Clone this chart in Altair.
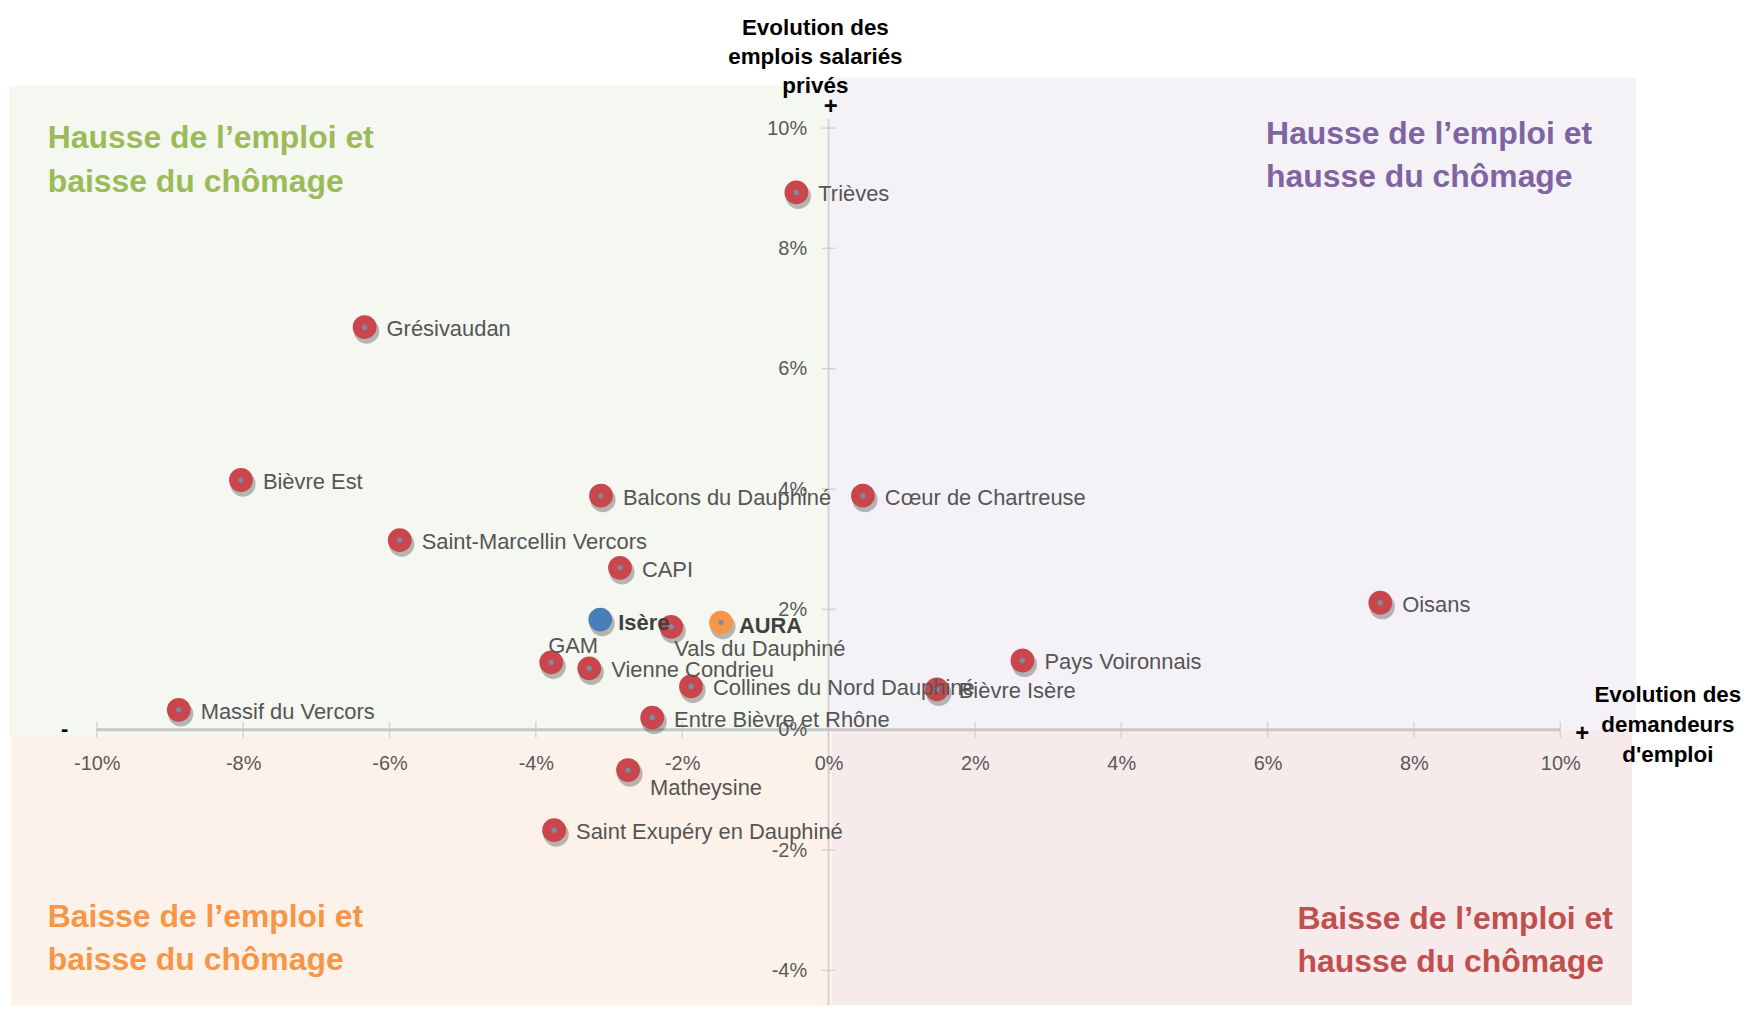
import altair as alt
import pandas as pd

# ---------------- data ----------------
names = ["Trièves", "Grésivaudan", "Bièvre Est", "Balcons du Dauphiné", "Cœur de Chartreuse",
         "Saint-Marcellin Vercors", "CAPI", "Isère", "Vals du Dauphiné", "AURA", "Oisans",
         "GAM", "Vienne Condrieu", "Pays Voironnais", "Collines du Nord Dauphiné",
         "Bièvre Isère", "Massif du Vercors", "Entre Bièvre et Rhône", "Matheysine",
         "Saint Exupéry en Dauphiné"]
demandeurs = [-0.44, -6.34, -8.03, -3.11, 0.47, -5.86, -2.85, -3.12, -2.15, -1.47, 7.54,
              -3.79, -3.27, 2.65, -1.88, 1.48, -8.88, -2.41, -2.74, -3.75]
emplois = [8.93, 6.69, 4.15, 3.89, 3.89, 3.15, 2.69, 1.83, 1.71, 1.78, 2.11,
           1.12, 1.02, 1.15, 0.72, 0.67, 0.33, 0.20, -0.67, -1.67]
kinds = ["Isère" if n == "Isère" else "AURA" if n == "AURA" else "EPCI" for n in names]

x_ticks = [-10, -8, -6, -4, -2, 0, 2, 4, 6, 8, 10]
y_ticks = [-4, -2, 0, 2, 4, 6, 8, 10]

labels_above = ["GAM"]
labels_below = ["Vals du Dauphiné"]
labels_below_right = ["Matheysine"]
labels_bold = ["Isère", "AURA"]

df = pd.DataFrame({"name": names, "x": demandeurs, "y": emplois, "kind": kinds})

# ---------------- layout ----------------
W, H = 1633, 931
XMIN, XMAX = -11.2, 11.04
YMIN, YMAX = -4.58, 10.84
FONT = "Liberation Sans, Arial, sans-serif"
GREY = "#555555"
AXC = "#c8c8c8"

x_scale = alt.Scale(domain=[XMIN, XMAX], nice=False, zero=False)
y_scale = alt.Scale(domain=[YMIN, YMAX], nice=False, zero=False)
x0_px = (0 - XMIN) / (XMAX - XMIN) * W
y0_px = (YMAX - 0) / (YMAX - YMIN) * H

x_axis = alt.Axis(values=x_ticks, labelExpr="datum.value + '%'", offset=-(H - y0_px),
                  ticks=False, tickSize=0, domain=False, grid=False, labelFontSize=20,
                  labelColor="#595959", labelFont=FONT, labelPadding=24, title=None, zindex=1,
                  labelOverlap=False, labelFlush=False)
y_axis = alt.Axis(values=y_ticks, labelExpr="datum.value + '%'", offset=-x0_px,
                  ticks=False, tickSize=0, domain=False, grid=False, labelFontSize=20,
                  labelColor="#595959", labelFont=FONT, labelPadding=22, title=None, zindex=1,
                  labelOverlap=False, labelFlush=False)


def X(field=None, datum=None):
    if datum is not None:
        return alt.X(datum=datum, type="quantitative", scale=x_scale, axis=x_axis)
    return alt.X(field, type="quantitative", scale=x_scale, axis=x_axis)


def Y(field=None, datum=None):
    if datum is not None:
        return alt.Y(datum=datum, type="quantitative", scale=y_scale, axis=y_axis)
    return alt.Y(field, type="quantitative", scale=y_scale, axis=y_axis)


one = pd.DataFrame({"k": [0]})

# quadrant backgrounds
quad = pd.DataFrame({
    "x": [XMIN, 0.0, -11.17, 0.04],
    "x2": [0.0, XMAX, 0.04, 10.98],
    "y": [10.70, 10.84, -0.12, 0.0],
    "y2": [-0.12, 0.0, YMIN, YMIN],
    "c": ["#f5f7f1", "#f4f2f7", "#fdf2ea", "#f7eaeb"],
})
bg = alt.Chart(quad).mark_rect().encode(
    x=X("x"), x2="x2", y=Y("y"), y2="y2", color=alt.Color("c:N", scale=None))

# axis lines and ticks
xline = alt.Chart(pd.DataFrame({"x": [-10], "x2": [10], "y": [0]})).mark_rule(
    color=AXC, strokeWidth=3).encode(x=X("x"), x2="x2", y=Y("y"))
yline = alt.Chart(pd.DataFrame({"x": [0], "y": [10.15], "y2": [YMIN]})).mark_rule(
    color="#d4d4d4", strokeWidth=2).encode(x=X("x"), y=Y("y"), y2="y2")
xt = alt.Chart(pd.DataFrame({"t": x_ticks})).mark_tick(
    orient="vertical", size=16, thickness=1.5, color=AXC).encode(x=X("t"), y=Y(datum=0))
yt = alt.Chart(pd.DataFrame({"t": y_ticks})).mark_tick(
    orient="horizontal", size=14, thickness=1.5, color=AXC).encode(x=X(datum=0), y=Y("t"))

# points
base = alt.Chart(df)
shadow = base.mark_circle(size=640, color="#2a2a2a", opacity=0.32, xOffset=2, yOffset=4).encode(
    x=X("x"), y=Y("y"))
pts = base.mark_circle(size=570, opacity=1).encode(
    x=X("x"), y=Y("y"),
    color=alt.Color("kind:N", scale=alt.Scale(domain=["EPCI", "Isère", "AURA"],
                                              range=["#c9474c", "#4a7ebb", "#f79646"]),
                    legend=None))
dots = base.transform_filter(alt.datum.name != "Isère").mark_circle(
    size=28, color="#7d8ba5", opacity=1).encode(x=X("x"), y=Y("y"))

# point labels (drawn over the points, as in the reference)
special = labels_above + labels_below + labels_below_right + labels_bold
lab_right = base.transform_filter(
    ~alt.FieldOneOfPredicate(field="name", oneOf=special)).mark_text(
    align="left", baseline="middle", dx=22, dy=2, font=FONT, fontSize=22, color=GREY
).encode(x=X("x"), y=Y("y"), text="name:N")
lab_bold = base.transform_filter(
    alt.FieldOneOfPredicate(field="name", oneOf=labels_bold)).mark_text(
    align="left", baseline="middle", dx=18, dy=3, font=FONT, fontSize=22,
    fontWeight="bold", color="#404040"
).encode(x=X("x"), y=Y("y"), text="name:N")
lab_above = base.transform_filter(
    alt.FieldOneOfPredicate(field="name", oneOf=labels_above)).mark_text(
    align="left", baseline="middle", dx=-3, dy=-16, font=FONT, fontSize=22, color=GREY
).encode(x=X("x"), y=Y("y"), text="name:N")
lab_below = base.transform_filter(
    alt.FieldOneOfPredicate(field="name", oneOf=labels_below)).mark_text(
    align="left", baseline="middle", dx=3, dy=22, font=FONT, fontSize=22, color=GREY
).encode(x=X("x"), y=Y("y"), text="name:N")
lab_below_r = base.transform_filter(
    alt.FieldOneOfPredicate(field="name", oneOf=labels_below_right)).mark_text(
    align="left", baseline="middle", dx=22, dy=18, font=FONT, fontSize=22, color=GREY
).encode(x=X("x"), y=Y("y"), text="name:N")


# annotations
def txt(lines, xd, ypx, color, size, lh, align="left", weight="bold", baseline="alphabetic"):
    return alt.Chart(one).mark_text(
        text=lines, align=align, baseline=baseline, font=FONT, fontSize=size,
        fontWeight=weight, color=color, lineHeight=lh
    ).encode(x=X(datum=xd), y=alt.value(ypx))


q_tl = txt(["Hausse de l’emploi et", "baisse du chômage"], -10.67, 71, "#9bbb59", 32, 44)
q_tr = txt(["Hausse de l’emploi et", "hausse du chômage"], 5.98, 67, "#8064a2", 32, 43)
q_bl = txt(["Baisse de l’emploi et", "baisse du chômage"], -10.67, 852, "#f79646", 32, 44)
q_br = txt(["Baisse de l’emploi et", "hausse du chômage"], 6.41, 854, "#c0504d", 32, 44)
t_top = txt(["Evolution des", "emplois salariés", "privés"], -0.18, -43, "#000000", 22.5, 29.5,
            align="center")
t_right = txt(["Evolution des", "demandeurs", "d'emploi"], 11.47, 627, "#000000", 22.5, 30,
              align="center")
plus_top = txt("+", 0.03, 30, "#000000", 24, 24, align="center", baseline="middle")
plus_right = txt("+", 10.30, 659, "#000000", 24, 24, align="center", baseline="middle")
minus_left = txt("-", -10.44, 654, "#000000", 22, 22, align="center", baseline="middle")

chart = alt.layer(
    bg, yline, xline, xt, yt,
    shadow, pts, dots,
    lab_right, lab_bold, lab_above, lab_below, lab_below_r,
    q_tl, q_tr, q_bl, q_br, t_top, t_right, plus_top, plus_right, minus_left
).properties(
    width=W, height=H,
    background="white",
    padding={"left": 1, "top": 68, "right": 110, "bottom": 2},
    autosize=alt.AutoSizeParams(type="none"),
).configure_view(strokeWidth=0, stroke=None)

chart.save("out.html", embed_options={"renderer": "svg", "actions": False})
